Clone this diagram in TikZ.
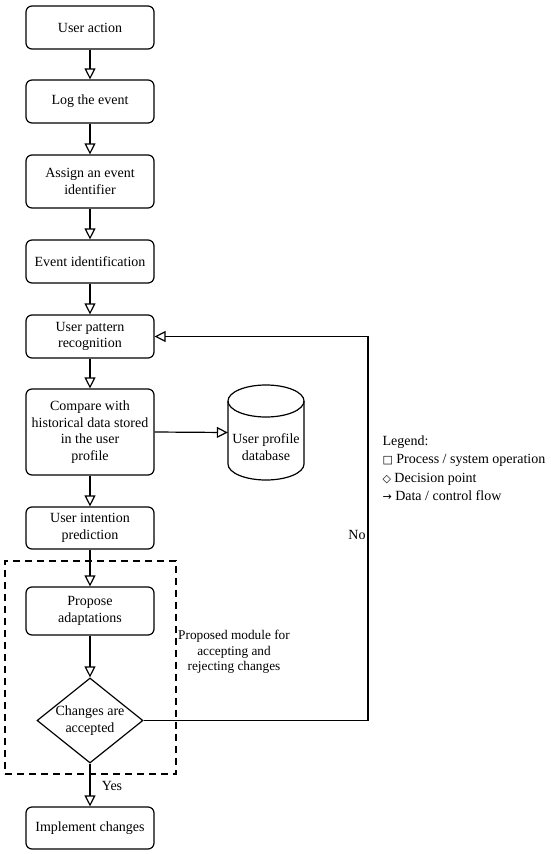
\documentclass[tikz,border=0pt]{standalone}
\usepackage{fontspec}
\setmainfont{Liberation Serif}
\newfontfamily\symfont{DejaVu Sans}
\usetikzlibrary{arrows.meta,shapes.geometric}
\begin{document}
\begin{tikzpicture}[x=1pt,y=1pt,
  every node/.style={font=\fontsize{14}{16.7}\selectfont},
  proc/.style={draw, line width=1.2pt, rounded corners=6pt, minimum width=128pt, inner sep=1pt, align=center},
  dec/.style={draw, line width=1.2pt, diamond, minimum width=106pt, minimum height=85pt, inner sep=0pt},
  arr/.style={line width=1.2pt, -{Triangle[open,length=11pt,width=11pt]}},
  modbox/.style={draw, line width=1.1pt, dash pattern=on 7pt off 5pt, minimum width=171pt, minimum height=213pt, inner sep=0pt}
]
\useasboundingbox (0,0) rectangle (550,-854);
\fill[white] (0,0) rectangle (550,-854);

\node[modbox] (module) at (90.5,-667.5) {};

\node[proc, minimum height=43pt] (ua) at (90,-27.5) {User action};
\node[proc, minimum height=43pt] (log) at (90,-101.5) {Log the event};
\node[proc, minimum height=53pt] (assign) at (90,-181.5) {Assign an event\\identifier};
\node[proc, minimum height=43pt] (evid) at (90,-261.5) {Event identification};
\node[proc, minimum height=43pt] (pat) at (90,-336.5) {User pattern\\recognition};
\node[proc, minimum height=86pt] (cmp) at (90,-432) {Compare with\\historical data stored\\in the user\\profile};
\node[proc, minimum height=42pt] (int) at (90,-528) {User intention\\prediction};
\node[proc, minimum height=48pt] (prop) at (90,-611) {Propose\\adaptations};
\node[dec] (dia) at (90,-720.5) {};
\node[align=center] (diat) at (90,-720.5) {Changes are\\accepted};
\node[proc, minimum height=42pt] (impl) at (90,-828) {Implement changes};

% database cylinder
\node[minimum width=76pt, minimum height=95pt, inner sep=0pt] (db) at (266,-432.5) {};
\draw[line width=1.2pt] (228,-401) -- (228,-464) arc[start angle=180, end angle=360, x radius=38, y radius=16] -- (304,-401);
\draw[line width=1.2pt] (266,-401) ellipse[x radius=38, y radius=16];
\node[align=center] (dbt) at (266,-447) {User profile\\database};

\draw[arr] (ua) -- (log);
\draw[arr] (log) -- (assign);
\draw[arr] (assign) -- (evid);
\draw[arr] (evid) -- (pat);
\draw[arr] (pat) -- (cmp);
\draw[arr] (cmp.east) -- (db.west);
\draw[arr] (cmp) -- (int);
\draw[arr] (int) -- (prop);
\draw[arr] (prop) -- (dia);
\draw[arr] (dia) -- (impl);

\coordinate (fb) at (368,-336.5);
\draw[arr] (dia.east) -| (fb) -- (pat.east);

\node (no) at (357,-535) {No};
\node (yes) at (112,-786) {Yes};

\node[align=center, font=\fontsize{13.3}{15.5}\selectfont] (modt) at (234,-652) {Proposed module for\\accepting and\\rejecting changes};

\node[anchor=base west] (lg0) at (379,-445) {Legend:};
\node[anchor=base west] (lg1) at (379,-463.5) {{\symfont\fontsize{11}{12}\selectfont □} Process / system operation};
\node[anchor=base west] (lg2) at (379,-482) {{\symfont\fontsize{11}{12}\selectfont ◇} Decision point};
\node[anchor=base west] (lg3) at (379,-500.5) {{\symfont\fontsize{11}{12}\selectfont →} Data / control flow};
\end{tikzpicture}
\end{document}
